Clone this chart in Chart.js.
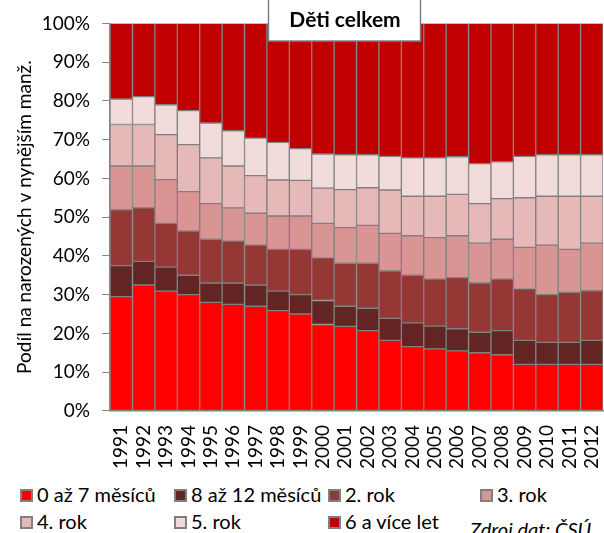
<!DOCTYPE html>
<html>
<head>
<meta charset="utf-8">
<script src="https://cdn.jsdelivr.net/npm/chart.js@4"></script>
<style>
  body { margin: 0; background: #fff; font-family: Lato, sans-serif; }
  #wrap { position: relative; width: 604px; height: 533px; overflow: hidden; }
  #legend .item { position: absolute; font-size: 20px; color: #000; white-space: nowrap; line-height: 20px; }
  #legend .box { display: inline-block; width: 9px; height: 9px; border: 2px solid #808080; margin-right: 4px; vertical-align: 0px; }
  #source { position: absolute; left: 470px; top: 519px; font-size: 20px; line-height: 20px; font-style: italic; white-space: nowrap; }
</style>
</head>
<body>
<div id="wrap">
  <canvas id="myChart" width="604" height="480"></canvas>
  <div id="legend"></div>
  <div id="source">Zdroj dat: ČSÚ</div>
</div>
<script>
var years = ['1991','1992','1993','1994','1995','1996','1997','1998','1999','2000','2001',
             '2002','2003','2004','2005','2006','2007','2008','2009','2010','2011','2012'];

// podíly v %
var m0to7   = [29.5,32.5,30.9,30.0,28.0,27.5,27.0,25.9,25.0,22.3,21.8,20.7,18.2,16.6,16.0,15.5,15.0,14.5,12.0,12.0,12.0,12.0];
var m8to12  = [8.0,6.1,6.2,5.0,5.0,5.5,5.5,5.0,5.0,6.2,5.2,5.8,5.7,6.1,5.9,5.7,5.3,6.2,6.2,5.7,5.7,6.2];
var rok2    = [14.4,13.8,11.3,11.4,11.3,10.8,10.3,10.8,11.7,11.1,11.1,11.6,12.2,12.3,12.1,13.2,12.7,13.3,13.4,12.3,12.9,12.8];
var rok3    = [11.3,10.8,11.3,10.2,9.2,8.6,8.2,8.6,8.6,8.8,9.2,9.8,9.7,10.2,10.7,10.8,10.3,10.3,10.6,12.8,11.1,12.3];
var rok4    = [10.7,10.7,11.6,12.1,11.8,10.8,9.7,9.3,9.2,9.1,9.8,9.7,11.2,10.2,10.7,10.7,10.2,10.5,12.8,12.6,13.7,12.1];
var rok5    = [6.6,7.2,7.7,8.8,9.0,9.1,9.7,9.7,8.2,8.8,9.0,8.5,8.7,9.9,9.9,9.7,10.3,9.5,10.7,10.7,10.7,10.7];
var rok6plus= [19.5,18.9,21.0,22.5,25.7,27.7,29.6,30.7,32.3,33.7,33.9,33.9,34.3,34.7,34.7,34.4,36.2,35.7,34.3,33.9,33.9,33.9];

var seriesNames = ['0 až 7 měsíců','8 až 12 měsíců','2. rok','3. rok','4. rok','5. rok','6 a více let'];
var seriesData = [m0to7, m8to12, rok2, rok3, rok4, rok5, rok6plus];
var colors = ['#ff0000','#632523','#953735','#d99594','#e6b9b8','#f2dcdb','#c00000'];

var datasets = seriesNames.map(function (name, i) {
  return {
    label: name,
    data: seriesData[i],
    backgroundColor: colors[i],
    borderColor: '#808080',
    borderWidth: 1,
    borderSkipped: false,
    barPercentage: 1,
    categoryPercentage: 1
  };
});

// rámeček s nadpisem přes horní okraj grafu
var titleBox = {
  id: 'titleBox',
  afterDraw: function (chart) {
    var c = chart.ctx;
    c.save();
    c.fillStyle = '#fff';
    c.fillRect(268, 0, 153, 41);
    c.strokeStyle = '#808080';
    c.lineWidth = 1.5;
    c.strokeRect(268.5, -2, 152, 43);
    c.fillStyle = '#000';
    c.font = 'bold 21px Lato';
    c.textAlign = 'center';
    c.textBaseline = 'alphabetic';
    c.fillText('Děti celkem', 345, 27);
    c.restore();
  }
};

var ctx = document.getElementById('myChart').getContext('2d');
var myChart = new Chart(ctx, {
  type: 'bar',
  data: { labels: years, datasets: datasets },
  options: {
    responsive: false,
    animation: false,
    layout: { padding: { top: 16, right: 1, left: 0, bottom: 2 } },
    plugins: { legend: { display: false }, tooltip: { enabled: false } },
    scales: {
      x: {
        stacked: true,
        afterFit: function (scale) { scale.paddingLeft = 0; scale.paddingRight = 0; },
        grid: { display: false, drawOnChartArea: false, drawTicks: true, tickLength: 5, color: '#868686', offset: true },
        border: { color: '#868686', width: 1.5 },
        ticks: { color: '#000', font: { family: 'Lato', size: 19 }, maxRotation: 90, minRotation: 90, autoSkip: false, padding: 9 }
      },
      y: {
        stacked: true,
        min: 0,
        max: 100,
        grid: { drawOnChartArea: false, tickLength: 8, color: '#868686' },
        border: { color: '#868686', width: 1.5 },
        ticks: { stepSize: 10, color: '#000', font: { family: 'Lato', size: 19 }, padding: 12,
                 callback: function (v) { return v + '%'; } },
        title: { display: true, text: 'Podíl na narozených v nynějším manž.', color: '#000',
                 font: { family: 'Lato', size: 19 }, padding: { top: 13, bottom: -6 } }
      }
    }
  },
  plugins: [titleBox]
});

// legenda
var legendPos = [[20,484],[174,484],[328,484],[480,484],[20,511],[174,511],[328,511]];
var legend = document.getElementById('legend');
seriesNames.forEach(function (name, i) {
  var d = document.createElement('div');
  d.className = 'item';
  d.style.left = legendPos[i][0] + 'px';
  d.style.top = legendPos[i][1] + 'px';
  d.innerHTML = '<span class="box" style="background:' + colors[i] + '"></span>' + name;
  legend.appendChild(d);
});
</script>
</body>
</html>
